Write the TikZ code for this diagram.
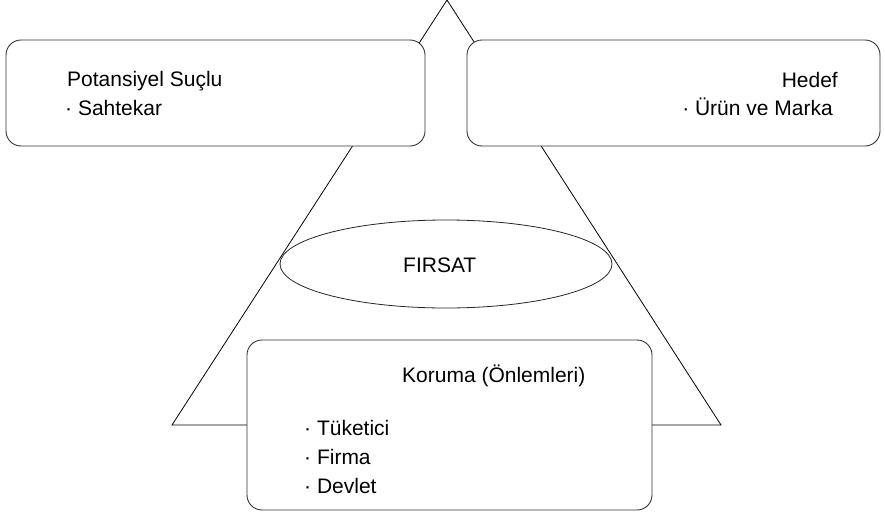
\documentclass[tikz,border=0pt]{standalone}
\usepackage{fontspec}
\setmainfont{Liberation Sans}
\usetikzlibrary{shapes.geometric}
\begin{document}
\begin{tikzpicture}[x=1pt, y=-1pt,
		kutu/.style={draw=black!80, fill=white, rounded corners=15pt, line width=0.9pt, inner sep=0pt},
		yazi/.style={font=\fontsize{21}{24}\selectfont, inner sep=0pt}]
			\useasboundingbox (0,0) rectangle (885,514);
			\coordinate (tepe) at (447,0);
			\coordinate (solalt) at (172,425);
			\coordinate (sagalt) at (721,425);
			\draw [line width=0.8pt] (tepe) -- (solalt) -- (sagalt) -- cycle;
			\node [kutu, minimum width=419pt, minimum height=106pt] (suclu) at (215.5,93) {};
			\node [kutu, minimum width=413pt, minimum height=106pt] (hedef) at (673.5,93) {};
			\node [draw=black!85, fill=white, ellipse, line width=0.8pt, minimum width=332pt, minimum height=88pt] (firsat) at (446,264) {};
			\node [kutu, minimum width=405pt, minimum height=170pt] (koruma) at (449.5,425) {};
			\node [yazi, anchor=base west] (suclubaslik) at (67,86.7) {Potansiyel Suçlu};
			\node [yazi, anchor=base west] (sahtekar) at (65,115) {· Sahtekar};
			\node [yazi, anchor=base east] (hedefbaslik) at (838,87) {Hedef};
			\node [yazi, anchor=base east] (urun) at (833,115) {· Ürün ve Marka};
			\node [yazi, anchor=base west] (firsatyazi) at (403,272) {FIRSAT};
			\node [yazi, anchor=base west] (korumabaslik) at (402,382) {Koruma (Önlemleri)};
			\node [yazi, anchor=base west] (tuketici) at (304,435) {· Tüketici};
			\node [yazi, anchor=base west] (firma) at (304,464) {· Firma};
			\node [yazi, anchor=base west] (devlet) at (304,493) {· Devlet};
		\end{tikzpicture}
\end{document}
